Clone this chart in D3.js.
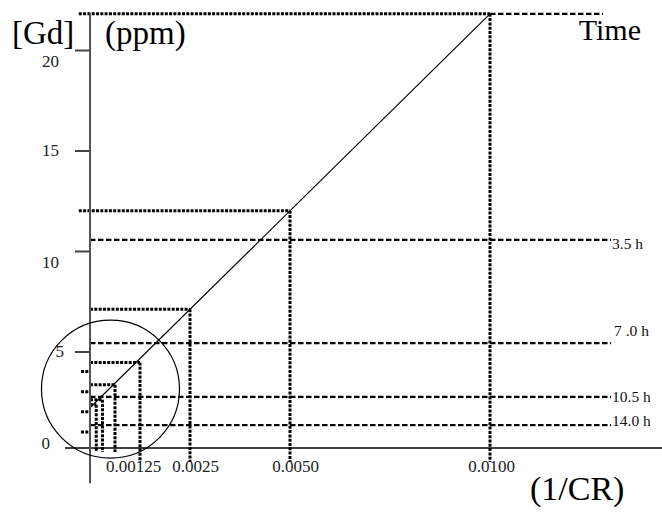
<!DOCTYPE html>
<html>
<head>
<meta charset="utf-8">
<script src="https://cdn.jsdelivr.net/npm/d3@7"></script>
<style>
  body { margin: 0; background: #fff; }
  svg { display: block; font-family: "Liberation Serif", serif; }
</style>
</head>
<body>
<svg id="chart" width="662" height="516"></svg>
<script>
// standard additions: 1/CR vs [Gd]
const invCR = [0.01, 0.005, 0.0025, 0.00125, 0.000625, 0.0003125, 0.00015625];
const gd = [21.8, 12.0, 7.1, 4.45, 3.35, 2.6, 2.35];

// fitted straight line
const fitX = [0, 0.01];
const fitY = [2.2, 21.8];

// time levels
const timeLabels = ["3.5 h", "7 .0 h", "10.5 h", "14.0 h"];
const timeGd = [10.55, 5.42, 2.74, 1.34];

const yTicks = [0, 5, 10, 15, 20];
const yMinor = [1, 2, 3, 4];
const xTicks = [0.00125, 0.0025, 0.005, 0.01];
const xTickLabels = ["0.00125", "0.0025", "0.0050", "0.0100"];

// circled region (data units)
const ringX = 0.000512, ringY = 3.13, ringRx = 0.001725, ringRy = 3.43;

const svg = d3.select("#chart");

const x = d3.scaleLinear().domain([0, 0.01]).range([90, 490]);
const y = d3.scaleLinear().domain([0, 20]).range([452, 50]);

const xAxisAt = 0.2;
const timeEnd = 0.013025;

const dotted = g => g.attr("stroke", "#000").attr("stroke-width", 3).attr("stroke-dasharray", "3,1.3").attr("fill", "none");
const dashed = g => g.attr("stroke", "#000").attr("stroke-width", 2.2).attr("stroke-dasharray", "5.5,2.5").attr("fill", "none");

// time lines
svg.selectAll(".time")
  .data(timeGd)
  .enter().append("line")
    .attr("x1", x(0))
    .attr("x2", x(timeEnd))
    .attr("y1", d => y(d))
    .attr("y2", d => y(d))
    .call(dashed);

svg.append("line")
  .attr("x1", x(invCR[0]))
  .attr("x2", x(0.012825))
  .attr("y1", y(gd[0]))
  .attr("y2", y(gd[0]))
  .call(dashed);

// label nudges as in the original figure
const labelShift = [4, -12, 0, -4];
svg.selectAll(".tlab")
  .data(timeLabels)
  .enter().append("text")
    .attr("x", (d, i) => x(timeEnd) + (i === 1 ? 3 : 1))
    .attr("y", (d, i) => y(timeGd[i]) + labelShift[i])
    .attr("dy", "0.35em")
    .attr("font-size", 15.5)
    .attr("fill", "#111")
    .text(d => d);

// guide lines to each point
invCR.forEach((v, i) => {
  svg.append("line")
    .attr("x1", x(i < 2 ? -0.00028 : 0))
    .attr("x2", x(v))
    .attr("y1", y(gd[i]))
    .attr("y2", y(gd[i]))
    .call(dotted);
  svg.append("line")
    .attr("x1", x(v))
    .attr("x2", x(v))
    .attr("y1", y(gd[i]))
    .attr("y2", y(i < 4 ? -0.5 : 0))
    .call(dotted);
});

// minor stubs
svg.selectAll(".minor")
  .data(yMinor)
  .enter().append("line")
    .attr("x1", x(-0.000225))
    .attr("x2", x(0))
    .attr("y1", d => y(d))
    .attr("y2", d => y(d))
    .call(dotted);

// fitted line
svg.append("line")
  .attr("x1", x(fitX[0]))
  .attr("y1", y(fitY[0]))
  .attr("x2", x(fitX[1]))
  .attr("y2", y(fitY[1]))
  .attr("stroke", "#000")
  .attr("stroke-width", 1.2);

// x axis
svg.append("line")
  .attr("x1", x(-0.000625))
  .attr("x2", x(0.0143))
  .attr("y1", y(xAxisAt))
  .attr("y2", y(xAxisAt))
  .attr("stroke", "#000")
  .attr("stroke-width", 1.6);

svg.append("g")
  .attr("transform", `translate(0,${y(xAxisAt)})`)
  .call(d3.axisBottom(x).tickValues(xTicks).tickSize(0).tickPadding(12)
        .tickFormat((d, i) => xTickLabels[i]))
  .call(g => g.select(".domain").remove())
  .call(g => g.selectAll("text")
        .attr("font-size", 17).attr("font-family", "Liberation Serif").attr("fill", "#222")
        .attr("dx", d => d === 0.00125 ? -7 : (d === 0.01 ? 1 : 5)));

// y axis
svg.append("line")
  .attr("x1", x(0))
  .attr("x2", x(0))
  .attr("y1", y(21.85))
  .attr("y2", y(-1.55))
  .attr("stroke", "#555")
  .attr("stroke-width", 2);

svg.append("g")
  .attr("transform", `translate(${x(0)},0)`)
  .call(d3.axisLeft(y).tickValues(yTicks).tickSize(15).tickPadding(16))
  .call(g => g.select(".domain").remove())
  .call(g => g.selectAll(".tick line").attr("stroke", "#444").attr("stroke-width", 2)
        .filter(d => d === 0).remove())
  .call(g => g.selectAll("text")
        .attr("font-size", 17).attr("font-family", "Liberation Serif").attr("fill", "#222")
        .attr("x", d => d === 0 ? -40 : (d === 5 ? -26 : -31))
        .attr("dy", d => d === 20 || d === 10 ? "0.95em" : (d === 0 ? "-0.2em" : "0.32em")));

// circled region
svg.append("ellipse")
  .attr("cx", x(ringX))
  .attr("cy", y(ringY))
  .attr("rx", x(ringRx) - x(0))
  .attr("ry", y(0) - y(ringRy))
  .attr("fill", "none")
  .attr("stroke", "#000")
  .attr("stroke-width", 1.2);

// titles
svg.append("text").attr("x", 12).attr("y", 44).attr("font-size", 33).text("[Gd]");
svg.append("text").attr("x", 105).attr("y", 44).attr("font-size", 33).text("(ppm)");
svg.append("text").attr("x", 641).attr("y", 40).attr("text-anchor", "end").attr("font-size", 30).text("Time");
svg.append("text").attr("x", 530).attr("y", 500).attr("font-size", 34).text("(1/CR)");
</script>
</body>
</html>
